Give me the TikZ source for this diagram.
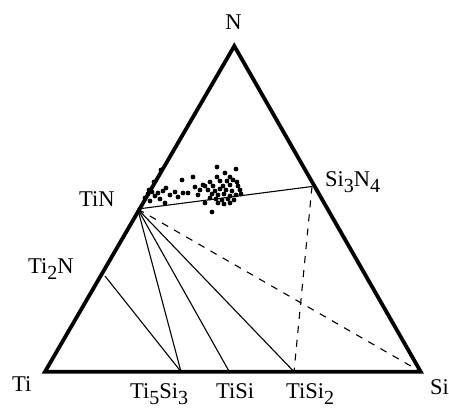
\documentclass[tikz,border=0pt]{standalone}
\usepackage{fontspec}
\setmainfont{Liberation Serif}
\newcommand{\sbs}[1]{\raisebox{-6pt}{\fontsize{20}{20}\selectfont #1}}
\begin{document}
\begin{tikzpicture}[x=1pt,y=-1pt,
  edge/.style={line width=3.8pt, line join=miter},
  tie/.style={line width=1.1pt},
  dashtie/.style={line width=1.1pt, dash pattern=on 7pt off 7pt},
  lbl/.style={inner sep=0pt, font=\fontsize{22.5}{22.5}\selectfont}]
\useasboundingbox (0,0) rectangle (449,413);
\fill[white] (0,0) rectangle (449,413);
% corners and phase points
\coordinate (N) at (234.3,46);
\coordinate (Ti) at (45,371.7);
\coordinate (Si) at (420.7,371.7);
\coordinate (TiN) at (137.7,209);
\coordinate (Ti2N) at (105,276);
\coordinate (Si3N4) at (312,186.5);
\coordinate (Ti5Si3) at (181,371.7);
\coordinate (TiSi) at (229.3,371.7);
\coordinate (TiSi2) at (294,371.7);
% tie lines
\draw[tie] (TiN) -- (Si3N4);
\draw[tie] (TiN) -- (Ti5Si3);
\draw[tie] (TiN) -- (TiSi);
\draw[tie] (TiN) -- (TiSi2);
\draw[tie] (Ti2N) -- (Ti5Si3);
\draw[dashtie] (TiN) -- (Si);
\draw[dashtie] (Si3N4) -- (TiSi2);
% triangle
\draw[edge] (Ti) -- (Si) -- (N) -- cycle;
% data points
\foreach \px/\py in {161/170,154/182,149/190,145/198,148/194,152/192,150/201,155/196,158/193,160/199,163/191,165/203,166/188,170/195,175/192,178/197,182/180,183/193,188/193,193/177,195/187,198/195,200/190,205/203,203/185,
217/167,236/169,225/173,217/177,230/177,210/182,220/181,227/181,233/180,237/182,205/186,213/186,223/186,230/185,238/186,208/190,215/191,220/189,226/190,232/191,240/190,212/194,218/195,224/194,230/196,236/195,241/194,210/198,216/199,222/200,228/199,234/200,218/203,224/204,230/203,212/212}
  \fill (\px,\py) circle (2.4pt);
% labels
\node[lbl, anchor=base] (lN) at (233.5,29) {N};
\node[lbl, anchor=base west] (lTiN) at (79,206) {TiN};
\node[lbl, anchor=base west] (lTi2N) at (28,273) {Ti\sbs{2}N};
\node[lbl, anchor=base west] (lSi3N4) at (325,186) {Si\sbs{3}N\sbs{4}};
\node[lbl, anchor=base west] (lTi) at (12,391) {Ti};
\node[lbl, anchor=base west] (lTi5Si3) at (130,398) {Ti\sbs{5}Si\sbs{3}};
\node[lbl, anchor=base west] (lTiSi) at (216,398) {TiSi};
\node[lbl, anchor=base west] (lTiSi2) at (286,398) {TiSi\sbs{2}};
\node[lbl, anchor=base east] (lSi) at (449,394) {Si};
\end{tikzpicture}
\end{document}
